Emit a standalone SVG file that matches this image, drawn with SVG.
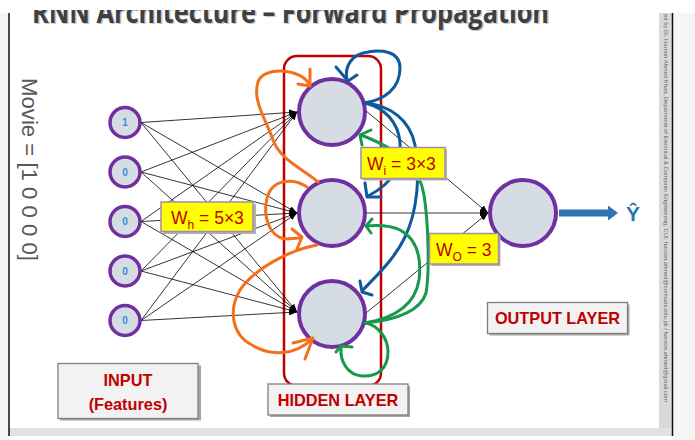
<svg xmlns="http://www.w3.org/2000/svg" width="695" height="440" viewBox="0 0 695 440">
<style>
.inode{fill:#d6dce4;stroke:#7030a0;stroke-width:3.5}
.hnode{fill:#d6dce4;stroke:#7030a0;stroke-width:4}
.itxt{font-family:"Liberation Sans",Arial,sans-serif;font-size:10px;font-weight:bold;fill:#2f8fdb;text-anchor:middle}
.wire{stroke:#000;stroke-width:0.8;fill:none;marker-end:url(#ah)}
.cur{fill:none;stroke-width:3;stroke-linecap:round;stroke-linejoin:round}
.or{stroke:#f4701e}
.bl{stroke:#0e5a9c}
.gr{stroke:#16994a}
.ybox{fill:#ffff00;stroke:#a08cb0;stroke-width:1.5}
.yshadow{fill:#b0b0b0}
.wtxt{font-family:"Liberation Sans",Arial,sans-serif;font-size:17.5px;fill:#c00000}
.gbox{fill:#f2f2f2;stroke:#7f7f7f;stroke-width:1.3}
.gshadow{fill:#a6a6a6}
.ltxt{font-family:"Liberation Sans",Arial,sans-serif;font-size:16.3px;font-weight:bold;fill:#c00000;text-anchor:middle}
.title{font-family:"Open Sans","Liberation Sans",sans-serif;font-size:31px;font-weight:bold}
</style>
<defs>
<marker id="ah" markerUnits="userSpaceOnUse" markerWidth="8" markerHeight="6" refX="8" refY="3" orient="auto">
<path d="M0,0 L8,3 L0,6 z" fill="#000"/>
</marker>
<clipPath id="titleclip"><rect x="0" y="10" width="695" height="30"/></clipPath>
</defs>
<!-- page background -->
<rect x="0" y="0" width="695" height="440" fill="#ffffff"/>
<rect x="0" y="13" width="9" height="427" fill="#f6f5f3"/>
<rect x="673" y="13" width="22" height="427" fill="#f6f5f3"/>
<rect x="659" y="13" width="13" height="423" fill="#d9d9d9"/>
<rect x="9" y="428" width="663" height="8" fill="#e1e1e1"/>
<line x1="9" y1="13" x2="9" y2="436" stroke="#111" stroke-width="1.5"/>
<line x1="672.5" y1="13" x2="672.5" y2="436" stroke="#111" stroke-width="1.5"/>
<text transform="translate(663.5,14) rotate(90)" x="0" y="0" font-family="Liberation Sans,Arial,sans-serif" font-size="6" fill="#666" textLength="388" lengthAdjust="spacingAndGlyphs">ed by Dr. Haroon Ahmed Khan, Department of Electrical &amp; Computer Engineering, CUI, haroon.ahmed@comsats.edu.pk / haroon.ahmed@gmail.com</text>

<!-- title -->
<g id="title" clip-path="url(#titleclip)">
<text class="title" x="33.5" y="24" fill="#c8c8c8" textLength="517" lengthAdjust="spacingAndGlyphs">RNN Architecture – Forward Propagation</text>
<text class="title" x="32" y="22.5" fill="#404040" textLength="517" lengthAdjust="spacingAndGlyphs">RNN Architecture – Forward Propagation</text>
</g>

<text transform="translate(22,78) rotate(90)" x="0" y="0" font-family="Liberation Sans,Arial,sans-serif" font-size="22" fill="#595959" textLength="183" lengthAdjust="spacingAndGlyphs">Movie = [1 0 0 0 0]</text>

<!-- hidden layer frame -->
<rect id="hidden-frame" x="284" y="56" width="97" height="330" rx="13" ry="13" fill="none" stroke="#c00000" stroke-width="2.5"/>

<g id="connectors">
<line class="wire" x1="141" y1="122.5" x2="297" y2="112"/>
<line class="wire" x1="141" y1="122.5" x2="297" y2="213"/>
<line class="wire" x1="141" y1="122.5" x2="297" y2="312"/>
<line class="wire" x1="141" y1="172" x2="297" y2="112"/>
<line class="wire" x1="141" y1="172" x2="297" y2="213"/>
<line class="wire" x1="141" y1="172" x2="297" y2="312"/>
<line class="wire" x1="141" y1="221.5" x2="297" y2="112"/>
<line class="wire" x1="141" y1="221.5" x2="297" y2="213"/>
<line class="wire" x1="141" y1="221.5" x2="297" y2="312"/>
<line class="wire" x1="141" y1="271" x2="297" y2="112"/>
<line class="wire" x1="141" y1="271" x2="297" y2="213"/>
<line class="wire" x1="141" y1="271" x2="297" y2="312"/>
<line class="wire" x1="141" y1="320.5" x2="297" y2="112"/>
<line class="wire" x1="141" y1="320.5" x2="297" y2="213"/>
<line class="wire" x1="141" y1="320.5" x2="297" y2="312"/>
<line class="wire" x1="365" y1="110" x2="488" y2="213"/>
<line class="wire" x1="367" y1="213" x2="488" y2="213"/>
<line class="wire" x1="366" y1="313" x2="488" y2="213"/>
<!-- output arrow -->
<path d="M559,209.5 L608,209.5 L608,205.5 L618,213 L608,220.5 L608,216.5 L559,216.5 z" fill="#2e75b6"/>
</g>

<g id="inputs">
<g id="in1"><circle class="inode" cx="125" cy="122.5" r="15"/><text class="itxt" x="125" y="126">1</text></g>
<g id="in2"><circle class="inode" cx="125" cy="172" r="15"/><text class="itxt" x="125" y="175.5">0</text></g>
<g id="in3"><circle class="inode" cx="125" cy="221.5" r="15"/><text class="itxt" x="125" y="225">0</text></g>
<g id="in4"><circle class="inode" cx="125" cy="271" r="15"/><text class="itxt" x="125" y="274.5">0</text></g>
<g id="in5"><circle class="inode" cx="125" cy="320.5" r="15"/><text class="itxt" x="125" y="324">0</text></g>
</g>

<g id="hidden">
<circle id="h1" class="hnode" cx="332" cy="112" r="33"/>
<circle id="h2" class="hnode" cx="332" cy="213" r="33"/>
<circle id="h3" class="hnode" cx="332" cy="314" r="33"/>
</g>

<g id="output">
<circle class="hnode" cx="523" cy="213" r="33"/>
<text x="633" y="221" font-family="Liberation Sans,Arial,sans-serif" font-size="21" font-weight="bold" fill="#2e75b6" text-anchor="middle">Ŷ</text>
</g>

<g id="recurrent">
<!-- orange -->
<path class="cur or" d="M318,182 C305,170 280,160 273,140 C266,120 252,100 258,82 C263,66 300,68 309,84"/>
<path class="cur or" d="M310,69 L310,86 L298,84"/>
<path class="cur or" d="M307,187 C295,178 272,178 267,198 C263,215 268,236 285,239 L300,238"/>
<path class="cur or" d="M292,229 L302,237 L297,249"/>
<path class="cur or" d="M317,245 C290,250 255,268 240,290 C228,310 232,335 252,345 C270,356 295,356 312,339"/>
<path class="cur or" d="M293,343 L313,338 L305,359"/>
<!-- blue -->
<path class="cur bl" d="M364,103 C385,100 400,88 400,68 C400,50 380,50 368,52 C352,54 344,66 347,80"/>
<path class="cur bl" d="M336,67 L348,81 L357,75"/>
<path class="cur bl" d="M365,103 C385,108 398,122 400,142 C402,165 395,182 368,196"/>
<path class="cur bl" d="M365,183 L367,197 L381,197"/>
<path class="cur bl" d="M365,103 C390,105 410,120 415,145 C420,175 418,210 405,237 C395,258 380,272 363,290"/>
<path class="cur bl" d="M360,281 L362,292 L372,295"/>
<!-- green -->
<path class="cur gr" d="M365,323 C395,320 420,312 426,293 C430,270 428,220 424,195 C420,170 405,152 361,135"/>
<path class="cur gr" d="M371,130 L360,135 L362,145"/>
<path class="cur gr" d="M365,323 C395,318 415,305 419,280 C422,255 415,238 400,230 C390,225 378,225 366,226"/>
<path class="cur gr" d="M372,219 L366,226 L371,233"/>
<path class="cur gr" d="M365,323 C378,325 388,338 388,352 C388,368 378,377 362,376 C348,375 340,362 341,348"/>
<path class="cur gr" d="M352,347 L341,346 L336,352"/>
</g>

<g id="weight-labels">
<g id="wh">
<rect class="yshadow" x="163" y="204" width="93" height="30"/>
<rect class="ybox" x="161" y="202" width="92" height="29.5"/>
<text class="wtxt" x="171" y="224">W<tspan font-size="12" dy="5">h</tspan><tspan dy="-5"> = 5×3</tspan></text>
</g>
<g id="wi">
<rect class="yshadow" x="363" y="149.5" width="84" height="31"/>
<rect class="ybox" x="361" y="147.5" width="84" height="31"/>
<text class="wtxt" x="367" y="169.5">W<tspan font-size="12" dy="5">i</tspan><tspan dy="-5"> = 3×3</tspan></text>
</g>
<g id="wo">
<rect class="yshadow" x="431.5" y="235.5" width="69" height="30.5"/>
<rect class="ybox" x="429.5" y="233.5" width="69" height="30.5"/>
<text class="wtxt" x="436" y="256">W<tspan font-size="12" dy="5">O</tspan><tspan dy="-5"> = 3</tspan></text>
</g>
</g>

<g id="layer-labels">
<g id="input-label">
<rect class="gshadow" x="60" y="365.5" width="141" height="55"/>
<rect class="gbox" x="58" y="363.5" width="140" height="55"/>
<text class="ltxt" x="128" y="386" font-size="17">INPUT</text>
<text class="ltxt" x="128" y="410" font-size="17">(Features)</text>
</g>
<g id="hidden-label">
<rect class="gshadow" x="270" y="386" width="140" height="31"/>
<rect class="gbox" x="268" y="384" width="140" height="31"/>
<text class="ltxt" x="338" y="405.5">HIDDEN LAYER</text>
</g>
<g id="output-label">
<rect class="gshadow" x="489.5" y="304.5" width="140" height="31"/>
<rect class="gbox" x="487.5" y="302.5" width="140" height="31"/>
<text class="ltxt" x="557.5" y="324">OUTPUT LAYER</text>
</g>
</g>
</svg>
